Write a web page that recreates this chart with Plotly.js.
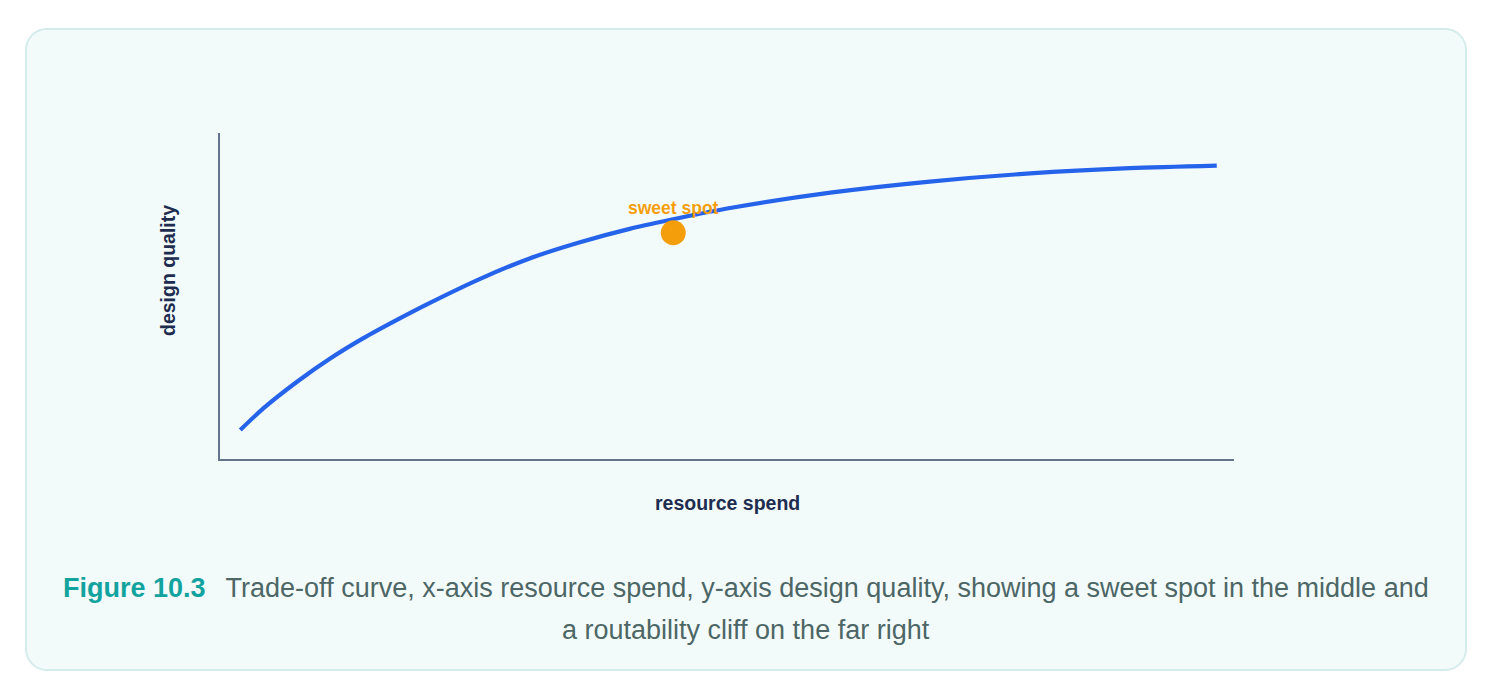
<!DOCTYPE html>
<html>
<head>
<meta charset="utf-8">
<script src="https://cdn.plot.ly/plotly-3.0.1.min.js"></script>
<style>
  html, body { margin: 0; padding: 0; background: #ffffff; }
  #wrap { position: relative; width: 1494px; height: 696px; overflow: hidden; }
  #card { position: absolute; left: 25px; top: 28px; width: 1438px; height: 639px;
          border: 2px solid #d5ecec; border-radius: 22px; background: #f3fbfa; }
  #chart { position: absolute; left: 0; top: 0; width: 1494px; height: 696px; }
</style>
</head>
<body>
<div id="wrap">
  <div id="card"></div>
  <div id="chart"></div>
</div>
<script>
// Trade-off curve (x: resource spend, y: design quality, 0-100 scales)
const spendX   = [2.0, 4.3, 7.6, 10.9, 14.1, 17.4, 20.7, 25.6, 30.6, 35.5, 40.4, 45.4, 50.3, 60.2, 70.0, 79.9, 89.7, 98.3];
const qualityY = [8.9, 15.6, 23.7, 30.9, 37.0, 42.6, 47.9, 55.2, 61.6, 66.5, 70.6, 74.0, 77.0, 81.7, 85.1, 87.6, 89.2, 90.0];
const sweetX = [44.7];
const sweetY = [69.4];
const sweetLabel = 'sweet spot';
const xTitle = 'resource spend';
const yTitle = 'design quality';
const figLabel = 'Figure 10.3';
const captionLine1 = 'Trade-off curve, x-axis resource spend, y-axis design quality, showing a sweet spot in the middle and';
const captionLine2 = 'a routability cliff on the far right';

const FONT = 'Liberation Sans, Arial, Helvetica, sans-serif';
const ORANGE = '#f59e0b';
const BLUE = '#2563eb';
const AXIS = '#64748b';
const NAVY = '#1e2d4f';
const TEAL = '#13a39f';
const GREY = '#4d6666';

const traces = [
  { x: spendX, y: qualityY, type: 'scatter', mode: 'lines',
    line: { color: BLUE, width: 4.2, shape: 'spline', smoothing: 0.8 }, hoverinfo: 'skip' },
  { x: sweetX, y: sweetY, type: 'scatter', mode: 'markers',
    marker: { color: ORANGE, size: 25, line: { width: 0 } }, hoverinfo: 'skip' }
];

const W = 1494, H = 696, L = 220, R = 1234, T = 133, B = 459;
const px = v => (v - L) / (R - L);
const py = v => (B - v) / (B - T);

const layout = {
  width: W, height: H,
  margin: { l: L, r: W - R, t: T, b: H - B, pad: 0 },
  paper_bgcolor: 'rgba(0,0,0,0)', plot_bgcolor: 'rgba(0,0,0,0)',
  showlegend: false,
  font: { family: FONT },
  xaxis: { range: [0, 100], showline: true, linecolor: AXIS, linewidth: 2.4,
           showgrid: false, zeroline: false, showticklabels: false, ticks: '', fixedrange: true },
  yaxis: { range: [0, 100], showline: true, linecolor: AXIS, linewidth: 2.4,
           showgrid: false, zeroline: false, showticklabels: false, ticks: '', fixedrange: true },
  annotations: [
    { x: sweetX[0], y: sweetY[0], xref: 'x', yref: 'y', text: sweetLabel, showarrow: false,
      yshift: 25, xanchor: 'center', yanchor: 'middle',
      font: { family: FONT, size: 17.5, color: ORANGE, weight: 700 } },
    { x: 0.5, y: py(503), xref: 'paper', yref: 'paper', text: xTitle, showarrow: false,
      xanchor: 'center', yanchor: 'middle',
      font: { family: FONT, size: 19.5, color: NAVY, weight: 700 } },
    { x: px(168), y: py(271), xref: 'paper', yref: 'paper', text: yTitle, showarrow: false,
      textangle: -90, xanchor: 'center', yanchor: 'middle',
      font: { family: FONT, size: 19.5, color: NAVY, weight: 700 } },
    { x: px(746), y: py(584), xref: 'paper', yref: 'paper', showarrow: false,
      xanchor: 'center', yanchor: 'middle',
      text: '<b><span style="color:' + TEAL + '">' + figLabel + '</span></b>' +
            '<span style="font-size:36px">\u00A0\u00A0</span>' + captionLine1,
      font: { family: FONT, size: 27, color: GREY } },
    { x: px(746), y: py(630), xref: 'paper', yref: 'paper', showarrow: false,
      xanchor: 'center', yanchor: 'middle', text: captionLine2,
      font: { family: FONT, size: 27, color: GREY } }
  ]
};

Plotly.newPlot('chart', traces, layout, { staticPlot: true, displayModeBar: false });
</script>
</body>
</html>
